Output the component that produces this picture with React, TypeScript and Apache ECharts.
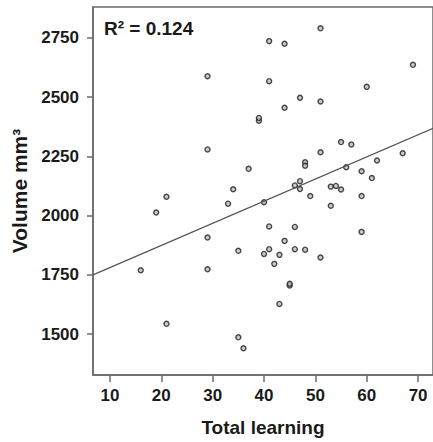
import React, { useEffect, useRef } from "react";
import * as echarts from "echarts";

const totalLearning = [16, 19, 21, 21, 29, 29, 29, 29, 33, 34, 35, 35, 36, 37, 39, 39, 40, 40, 41, 41, 41, 41, 42, 43, 43, 44, 44, 44, 45, 45, 46, 46, 46, 47, 47, 47, 48, 48, 48, 49, 51, 51, 51, 51, 53, 53, 54, 55, 55, 56, 57, 59, 59, 59, 60, 61, 62, 67, 69];
const volume = [1769, 2013, 2079, 1543, 2588, 2279, 1907, 1773, 2050, 2111, 1851, 1486, 1440, 2197, 2400, 2412, 2056, 1838, 2736, 2567, 1954, 1858, 1796, 1834, 1627, 2725, 2455, 1893, 1705, 1712, 2127, 1952, 1858, 2497, 2145, 2112, 2225, 2210, 1856, 2082, 2790, 2481, 2267, 1823, 2122, 2041, 2125, 2110, 2310, 2204, 2300, 2187, 2082, 1931, 2543, 2158, 2232, 2263, 2636];

const xTicks = [10, 20, 30, 40, 50, 60, 70];
const yTicks = [1500, 1750, 2000, 2250, 2500, 2750];
const xRange = [6.7, 72.9];
const yRange = [1327, 2880];
const fitIntercept = 1687;
const fitSlope = 9.34;
const r2Label = "R² = 0.124";

export default function App() {
  const ref = useRef<HTMLDivElement>(null);
  useEffect(() => {
    if (!ref.current) return;
    const chart = echarts.init(ref.current, null, { renderer: "svg" });
    const points = totalLearning.map((x, i) => [x, volume[i]]);
    const fit = xRange.map((x) => [x, fitIntercept + fitSlope * x]);
    const font = "'Liberation Sans', Arial, sans-serif";
    const axisColor = "#6a6a6a";
    const textColor = "#1a1a1a";
    chart.setOption({
      animation: false,
      grid: { left: 93, top: 7, right: 0, bottom: 67, show: true, borderColor: axisColor, borderWidth: 1.5 },
      xAxis: {
        type: "value",
        min: xRange[0],
        max: xRange[1],
        name: "Total learning",
        nameLocation: "middle",
        nameGap: 43,
        nameTextStyle: { fontFamily: font, fontWeight: "bold", fontSize: 19, color: textColor },
        axisLine: { show: true, lineStyle: { color: axisColor, width: 1.5 } },
        axisTick: { show: true, length: 7, customValues: xTicks, lineStyle: { color: axisColor, width: 1.5 } },
        axisLabel: { customValues: xTicks, margin: 12, fontFamily: font, fontWeight: "bold", fontSize: 17, color: textColor },
        splitLine: { show: false },
      },
      yAxis: {
        type: "value",
        min: yRange[0],
        max: yRange[1],
        name: "Volume mm³",
        nameLocation: "middle",
        nameGap: 60,
        nameTextStyle: { fontFamily: font, fontWeight: "bold", fontSize: 21, color: textColor },
        axisLine: { show: true, lineStyle: { color: axisColor, width: 1.5 } },
        axisTick: { show: true, length: 6, customValues: yTicks, lineStyle: { color: axisColor, width: 1.5 } },
        axisLabel: {
          customValues: yTicks,
          margin: 14,
          fontFamily: font,
          fontWeight: "bold",
          fontSize: 17,
          color: textColor,
          formatter: (v: number) => String(v),
        },
        splitLine: { show: false },
      },
      graphic: [
        {
          type: "text",
          left: 104,
          top: 19,
          style: { text: r2Label, fontFamily: font, fontWeight: "bold", fontSize: 19, fill: textColor },
        },
      ],
      series: [
        {
          type: "line",
          data: fit,
          symbol: "none",
          lineStyle: { color: "#555", width: 1.2 },
          silent: true,
        },
        {
          type: "scatter",
          data: points,
          symbol: "circle",
          symbolSize: 5,
          itemStyle: { color: "#bdbdbd", borderColor: "#1a1a1a", borderWidth: 1.4 },
        },
      ],
    });
    return () => chart.dispose();
  }, []);
  return <div ref={ref} style={{ position: "absolute", left: 0, top: 0, width: 433, height: 442 }} />;
}
